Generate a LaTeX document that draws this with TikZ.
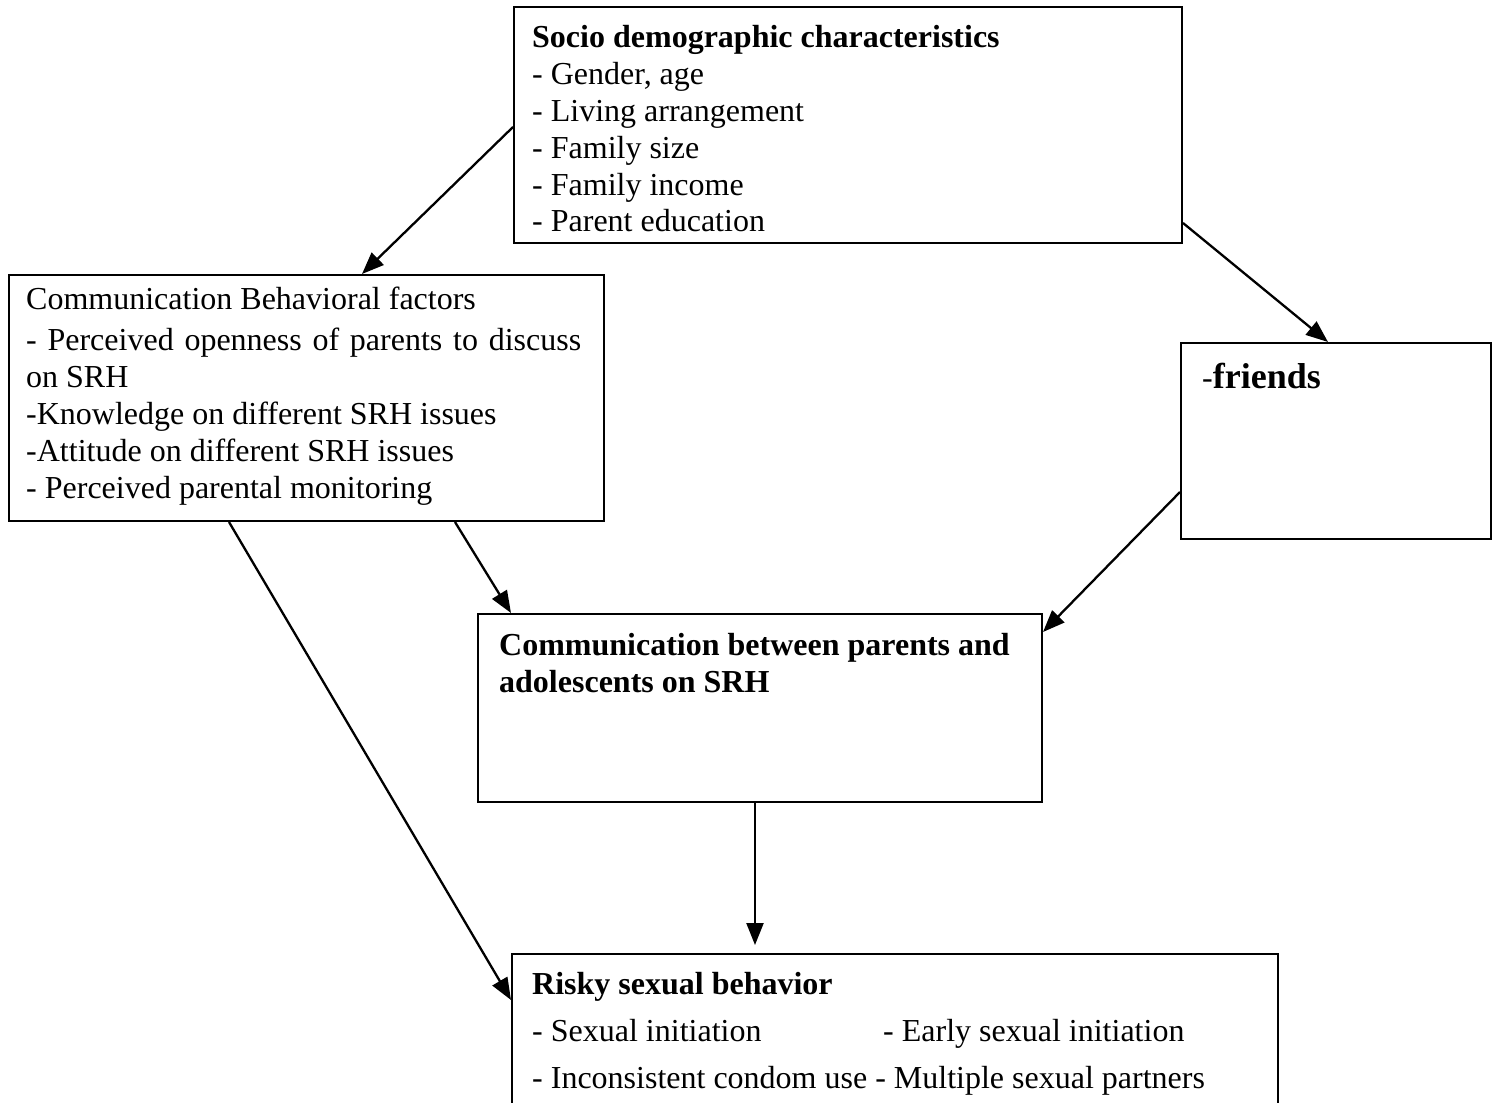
\documentclass[tikz,border=0pt]{standalone}
\usepackage{fontspec}
\setmainfont{Liberation Serif}
\usetikzlibrary{arrows.meta}
\begin{document}
\begin{tikzpicture}[x=1pt,y=-1pt,
  box/.style={draw,line width=2pt,rectangle,inner sep=0pt,anchor=north west},
  txt/.style={anchor=base west,inner sep=0pt,font=\fontsize{32}{37}\selectfont},
  btxt/.style={anchor=base west,inner sep=0pt,font=\fontsize{32}{37}\selectfont\bfseries},
  arr/.style={line width=2.3pt,-{Triangle[length=22pt,width=17pt]}}]
\path[use as bounding box, clip] (0,0) rectangle (1497,1103);
\fill[white] (0,0) rectangle (1497,1103);

% boxes
\node[box,minimum width=668pt,minimum height=236pt] (socio) at (513,6) {};
\node[box,minimum width=595pt,minimum height=246pt] (cbf) at (8,274) {};
\node[box,minimum width=310pt,minimum height=196pt] (friends) at (1180,342) {};
\node[box,minimum width=564pt,minimum height=188pt] (cb) at (477,613) {};
\node[box,minimum width=766pt,minimum height=200pt] (risky) at (511,953) {};

% socio demographic
\node[btxt] (s0) at (532,47) {Socio demographic characteristics};
\node[txt] (s1) at (532,84) {- Gender, age};
\node[txt] (s2) at (532,121) {- Living arrangement};
\node[txt] (s3) at (532,158) {- Family size};
\node[txt] (s4) at (532,195) {- Family income};
\node[txt] (s5) at (532,231) {- Parent education};

% communication behavioral factors
\node[txt] (c0) at (26,309) {Communication Behavioral factors};
\node[txt] (c1) at (26,350) {\makebox[555pt][s]{- Perceived openness of parents to discuss}};
\node[txt] (c2) at (26,387) {on SRH};
\node[txt] (c3) at (26,424) {-Knowledge on different SRH issues};
\node[txt] (c4) at (26,461) {-Attitude on different SRH issues};
\node[txt] (c5) at (26,498) {- Perceived parental monitoring};

% friends
\node[txt] (f0) at (1202,388) {-{\fontsize{36}{40}\selectfont\bfseries friends}};

% communication between
\node[btxt] (b0) at (499,655) {Communication between parents and};
\node[btxt] (b1) at (499,692) {adolescents on SRH};

% risky
\node[btxt] (r0) at (532,994) {Risky sexual behavior};
\node[txt] (r1) at (532,1041) {- Sexual initiation};
\node[txt] (r2) at (883,1041) {- Early sexual initiation};
\node[txt] (r3) at (532,1088) {- Inconsistent condom use - Multiple sexual partners};

% arrows
\draw[arr] ([yshift=-121pt]socio.north west) -- ([xshift=354pt]cbf.north west);
\draw[arr] ([yshift=-217pt]socio.north east) -- ([xshift=148pt]friends.north west);
\draw[arr] ([xshift=447pt]cbf.south west) -- ([xshift=34pt]cb.north west);
\draw[arr] ([xshift=221pt]cbf.south west) -- ([yshift=-47pt]risky.north west);
\draw[arr] ([yshift=-150pt]friends.north west) -- ([yshift=-19pt]cb.north east);
\draw[arr] ([xshift=278pt]cb.south west) -- ([xshift=244pt,yshift=8pt]risky.north west);
\end{tikzpicture}
\end{document}
